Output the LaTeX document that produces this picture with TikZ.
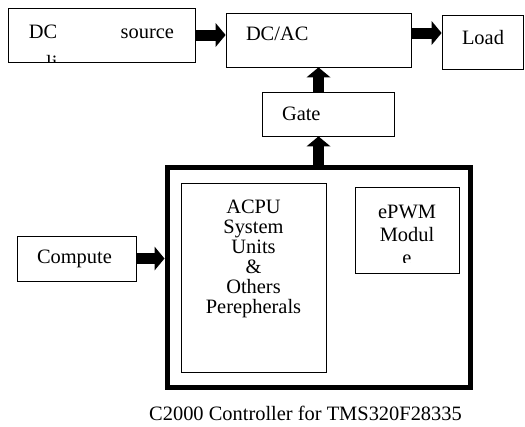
\documentclass[tikz,border=0pt]{standalone}
\usepackage{fontspec}
\setmainfont{Liberation Serif}
\usetikzlibrary{arrows.meta}

\tikzset{
  txt/.style={inner sep=0pt, font=\fontsize{20.5}{20}\selectfont},
  block/.style={txt, draw, line width=0.8bp},
  fat/.style={line width=11bp, -{Triangle[length=10bp,width=24bp,line width=0pt]}},
}

\begin{document}
\begin{tikzpicture}[x=1bp,y=-1bp]
    \useasboundingbox (0,0) rectangle (525,426);

    % Leistungsteil
    \node[block, minimum width=187bp, minimum height=54bp, text height=12bp, text depth=6bp] (dcsrc) at (101.5,35) {\makebox[145bp]{DC\hfill source}};
    \begin{scope}
        \clip (9,53) rectangle (194,61);
        \node[txt, anchor=base west] (dclink) at (46,69) {li};
    \end{scope}
    \node[block, minimum width=185bp, minimum height=54bp, text width=145bp, align=left, text height=10bp, text depth=9bp] (dcac) at (318.5,40) {DC/AC};
    \node[block, minimum width=81bp, minimum height=54bp, text width=41bp, align=left, text height=12bp, text depth=8bp] (load) at (482.5,42) {Load};
    \node[block, minimum width=132bp, minimum height=44bp, text width=92bp, align=left, text height=14bp, text depth=1bp] (gate) at (328,114) {Gate};
    \node[block, minimum width=119bp, minimum height=45bp, text width=79bp, align=left, text height=14bp, text depth=4bp] (comp) at (76.5,258.5) {Compute};

    % Controller
    \node[draw, line width=5bp, minimum width=303bp, minimum height=220bp] (ctrl) at (318.5,277) {};
    \node[block, minimum width=145bp, minimum height=189bp] (acpu) at (253.5,277.5) {};
    \node[txt, anchor=north, align=center] (acputxt) at (253.5,200) {ACPU\\System\\Units\\\&\\Others\\Perepherals};
    \node[block, minimum width=104bp, minimum height=86bp] (epwm) at (407,230) {};
    \begin{scope}
        \clip (356,188) rectangle (458,262);
        \node[txt, anchor=north, align=center, font=\fontsize{20.5}{23}\selectfont] (epwmtxt) at (407,205) {ePWM\\Modul\\e};
    \end{scope}
    \node[txt] (caption) at (305.5,413) {C2000 Controller for TMS320F28335};

    % Pfeile
    \coordinate (tap) at ([yshift=7bp]dcac.east);
    \draw[fat] (dcsrc.east) -- (dcsrc.east -| dcac.west);
    \draw[fat] (tap) -- (tap -| load.west);
    \draw[fat] (gate.north -| dcac.south) -- (dcac.south);
    \draw[fat] (ctrl.north) -- (ctrl.north |- gate.south);
    \draw[fat] (comp.east) -- (comp.east -| ctrl.west);
\end{tikzpicture}
\end{document}
